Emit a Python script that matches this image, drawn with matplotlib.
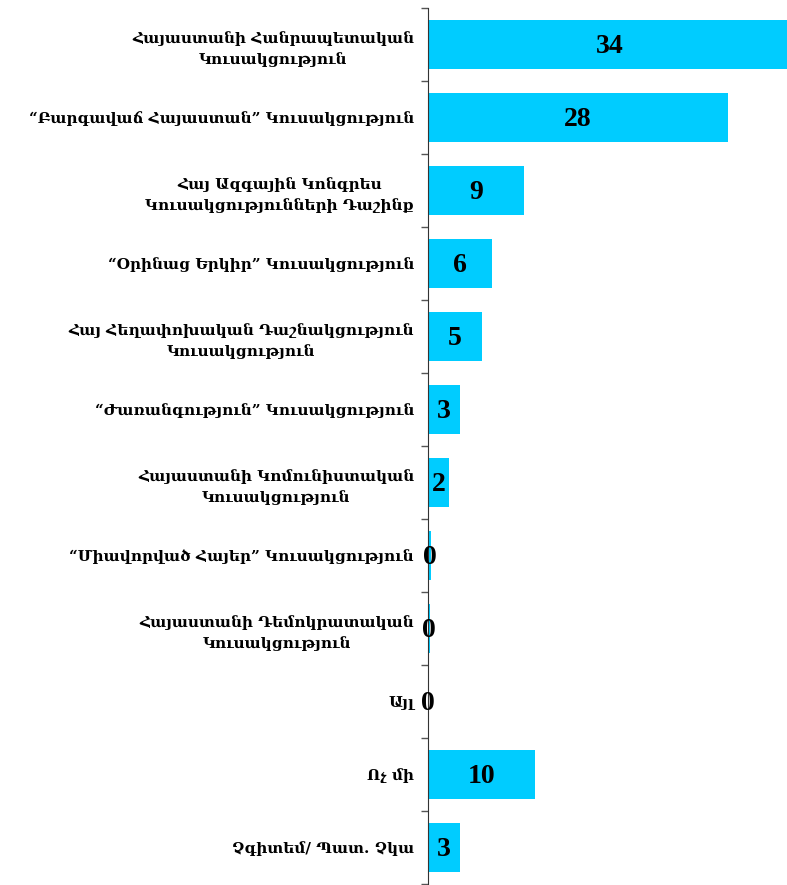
import matplotlib.pyplot as plt

parties = [
    "Հայաստանի Հանրապետական\nԿուսակցություն",
    "“Բարգավաճ Հայաստան” Կուսակցություն",
    "Հայ Ազգային Կոնգրես\nԿուսակցությունների Դաշինք",
    "“Օրինաց Երկիր” Կուսակցություն",
    "Հայ Հեղափոխական Դաշնակցություն\nԿուսակցություն",
    "“Ժառանգություն” Կուսակցություն",
    "Հայաստանի Կոմունիստական\nԿուսակցություն",
    "“Միավորված Հայեր” Կուսակցություն",
    "Հայաստանի Դեմոկրատական\nԿուսակցություն",
    "Այլ",
    "Ոչ մի",
    "Չգիտեմ/ Պատ. Չկա",
]
bar_values = [34, 28, 9, 6, 5, 3, 2, 0.3, 0.2, 0, 10, 3]
value_labels = ["34", "28", "9", "6", "5", "3", "2", "0", "0", "0", "10", "3"]

fig = plt.figure(figsize=(7.87, 8.85), dpi=100)
ax = fig.add_axes([428 / 787, 1 / 885, 359 / 787, 876 / 885])

y = list(range(len(parties)))
ax.barh(y, bar_values, height=0.67, color='#00CCFF')

for yi, v, lab in zip(y, bar_values, value_labels):
    ax.text(v / 2, yi + 0.03, lab, ha='center', va='center', fontsize=20,
            fontweight='bold', family='Liberation Serif', color='black')

ax.set_ylim(len(parties) - 0.5, -0.5)
ax.set_xlim(0, 33.5)

ax.set_yticks(y)
ax.set_yticklabels(parties, fontsize=11, fontweight='bold', family='DejaVu Serif',
                   multialignment='center', linespacing=1.55)
ax.set_yticks([i - 0.5 for i in range(len(parties) + 1)], minor=True)
ax.tick_params(axis='y', which='major', length=0, pad=10)
ax.tick_params(axis='y', which='minor', length=5, color='#555555', width=1)

ax.set_xticks([])
for s in ['top', 'right', 'bottom']:
    ax.spines[s].set_visible(False)
ax.spines['left'].set_color('#333333')

fig.savefig('out.png', dpi=100)
